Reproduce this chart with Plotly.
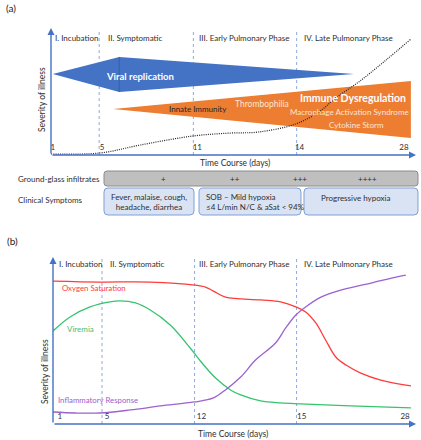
import plotly.graph_objects as go

W, H = 421, 440


def px(x):
    return x / W


def py(y):
    return 1 - y / H


FONT = "Lato"
DARK = "#2E2E2E"
AXIS_BLUE = "#4472C4"
DOT_BLUE = "#8FAADC"

# ---------------- data ----------------
phase_labels = ["I. Incubation", "II. Symptomatic",
                "III. Early Pulmonary Phase", "IV. Late Pulmonary Phase"]

# panel (a): schematic, x = relative time-course position (0-100), y = severity (0-100)
a_tick_text = ["1", "5", "11", "14", "28"]
a_tick_pos = [0.5, 14.0, 40.1, 68.1, 96.7]
a_phase_bounds = [13.2, 39.0, 67.3]
a_phase_label_pos = [0.5, 15.1, 40.1, 68.7]

viral_x = [0.5, 18.7, 83.0, 18.7]
viral_y = [63.8, 77.2, 63.8, 49.6]
immune_x = [17.0, 98.6, 98.6]
immune_y = [36.2, 58.3, 13.4]
severity_x = [0, 13.5, 24.5, 39.0, 49.2, 56.9, 67.0, 73.4, 78.0, 84.3, 91.8, 98.6]
severity_y = [0.8, 1.6, 7.9, 15.0, 17.3, 18.1, 24.4, 33.9, 44.9, 57.5, 74.8, 91.3]

# panel (b)
b_tick_text = ["1", "5", "12", "15", "28"]
b_tick_pos = [1.9, 14.9, 40.9, 68.5, 97.0]
b_phase_bounds = [13.5, 39.0, 67.1]
b_phase_label_pos = [1.1, 15.2, 39.8, 68.5]

oxygen_x = [0, 13.0, 26.8, 39.0, 42.0, 44.2, 47.5, 57.2, 62.7, 66.9, 69.6, 72.4,
            75.1, 77.9, 80.7, 84.8, 90.3, 98.6]
oxygen_y = [85.6, 85.0, 85.0, 83.2, 82.0, 79.6, 76.0, 74.3, 73.1, 70.1, 67.1, 60.5,
            50.3, 40.1, 35.3, 30.5, 26.3, 22.8]
viremia_x = [0, 4.7, 10.2, 15.7, 18.5, 22.7, 26.8, 32.3, 37.8, 40.6, 44.8, 48.9,
             51.7, 57.2, 62.7, 68.2, 82.0, 98.6]
viremia_y = [55.7, 64.1, 70.1, 73.1, 73.7, 72.5, 68.3, 59.3, 45.5, 37.7, 27.5, 20.4,
             17.4, 13.8, 12.6, 12.0, 10.8, 9.6]
inflam_x = [0, 6.1, 13.0, 21.3, 29.6, 39.0, 44.2, 47.5, 51.7, 55.8, 61.3, 64.1,
            66.9, 69.6, 73.8, 79.3, 87.6, 94.5, 97.2]
inflam_y = [7.2, 6.6, 6.6, 8.4, 10.8, 13.2, 15.6, 20.4, 28.1, 38.3, 48.5, 57.5,
            65.3, 70.1, 76.0, 80.2, 84.4, 88.0, 89.2]

ggi_levels = ["+", "++", "+++", "++++"]
symptom_box1 = ["Fever, malaise, cough,", "headache, diarrhea"]
symptom_box2 = ["SOB \u2013 Mild hypoxia", "\u22644 L/min N/C & aSat < 94%"]
symptom_box3 = ["Progressive hypoxia"]

# ---------------- figure ----------------
fig = go.Figure()

# panel (a) shapes
fig.add_trace(go.Scatter(x=immune_x + immune_x[:1], y=immune_y + immune_y[:1],
                         fill="toself", fillcolor="#ED7D31", mode="lines",
                         line=dict(width=0, color="#ED7D31"), hoverinfo="skip",
                         xaxis="x", yaxis="y"))
fig.add_trace(go.Scatter(x=viral_x + viral_x[:1], y=viral_y + viral_y[:1],
                         fill="toself", fillcolor="#4472C4", mode="lines",
                         line=dict(width=0, color="#4472C4"), hoverinfo="skip",
                         xaxis="x", yaxis="y"))
fig.add_trace(go.Scatter(x=[viral_x[1], viral_x[3]], y=[viral_y[1], viral_y[3]],
                         mode="lines", line=dict(width=1, color="#3A62AA"),
                         hoverinfo="skip", xaxis="x", yaxis="y"))
fig.add_trace(go.Scatter(x=severity_x, y=severity_y, mode="lines",
                         line=dict(color="#222222", width=1.2, dash="1px,1.2px", shape="spline"),
                         hoverinfo="skip", xaxis="x", yaxis="y"))

# panel (b) curves
fig.add_trace(go.Scatter(x=oxygen_x, y=oxygen_y, mode="lines",
                         line=dict(color="#FF3B3B", width=1.3, shape="spline"),
                         xaxis="x2", yaxis="y2", hoverinfo="skip"))
fig.add_trace(go.Scatter(x=viremia_x, y=viremia_y, mode="lines",
                         line=dict(color="#35C46E", width=1.3, shape="spline"),
                         xaxis="x2", yaxis="y2", hoverinfo="skip"))
fig.add_trace(go.Scatter(x=inflam_x, y=inflam_y, mode="lines",
                         line=dict(color="#9B62D0", width=1.3, shape="spline"),
                         xaxis="x2", yaxis="y2", hoverinfo="skip"))

shapes = []
annotations = []

# phase boundaries
for b in a_phase_bounds:
    shapes.append(dict(type="line", xref="x", yref="y", x0=b, x1=b, y0=0, y1=98,
                       line=dict(color=DOT_BLUE, width=1, dash="dot"), layer="below"))
for b in b_phase_bounds:
    shapes.append(dict(type="line", xref="x2", yref="y2", x0=b, x1=b, y0=0, y1=99,
                       line=dict(color=DOT_BLUE, width=1, dash="dot"), layer="below"))

# phase labels
for lab, xpos in zip(phase_labels, a_phase_label_pos):
    annotations.append(dict(xref="x", yref="y", x=xpos, y=92.1, text=lab, showarrow=False,
                            xanchor="left", yanchor="middle",
                            font=dict(family=FONT, size=8, color=DARK)))
for lab, xpos in zip(phase_labels, b_phase_label_pos):
    annotations.append(dict(xref="x2", yref="y2", x=xpos, y=95.8, text=lab, showarrow=False,
                            xanchor="left", yanchor="middle",
                            font=dict(family=FONT, size=8, color=DARK)))

# axis arrows
for xr, yr in (("x", "y"), ("x2", "y2")):
    annotations.append(dict(xref=xr, yref=yr, axref=xr, ayref=yr, x=100, y=0, ax=0, ay=0,
                            text="", showarrow=True, arrowhead=2, arrowsize=1,
                            arrowwidth=1.4, arrowcolor=AXIS_BLUE))
    annotations.append(dict(xref=xr, yref=yr, axref=xr, ayref=yr, x=0, y=100, ax=0, ay=0,
                            text="", showarrow=True, arrowhead=2, arrowsize=1,
                            arrowwidth=1.4, arrowcolor=AXIS_BLUE))

# text inside shapes (panel a)
annotations += [
    dict(xref="x", yref="y", x=24.5, y=62.2, text="<b>Viral replication</b>", showarrow=False,
         font=dict(family=FONT, size=9.5, color="white")),
    dict(xref="x", yref="y", x=40.4, y=36.2, text="Innate Immunity", showarrow=False,
         font=dict(family=FONT, size=8, color="#262626")),
    dict(xref="x", yref="y", x=57.7, y=40.2, text="Thrombophilia", showarrow=False,
         font=dict(family=FONT, size=8.5, color="#FBE5D6")),
    dict(xref="x", yref="y", x=82.7, y=44.9, text="<b>Immune Dysregulation</b>", showarrow=False,
         font=dict(family=FONT, size=10.5, color="white")),
    dict(xref="x", yref="y", x=81.9, y=33.9, text="Macrophage Activation Syndrome",
         showarrow=False, font=dict(family=FONT, size=8, color="#FBE5D6")),
    dict(xref="x", yref="y", x=83.8, y=23.6, text="Cytokine Storm", showarrow=False,
         font=dict(family=FONT, size=8, color="#FBE5D6")),
]

# panel (b) curve labels
annotations += [
    dict(xref="x2", yref="y2", x=11.3, y=81.4, text="Oxygen Saturation", showarrow=False,
         font=dict(family=FONT, size=7.8, color="#FF3B3B")),
    dict(xref="x2", yref="y2", x=7.7, y=56.9, text="Viremia", showarrow=False,
         font=dict(family=FONT, size=8, color="#4CBB6E")),
    dict(xref="x2", yref="y2", x=12.4, y=14.4, text="Inflammatory Response", showarrow=False,
         font=dict(family=FONT, size=7.8, color="#9B62D0")),
]


def paper_text(x, y, text, size=8, color=DARK, xanchor="center", angle=0, align="center"):
    return dict(xref="paper", yref="paper", x=px(x), y=py(y), text=text, showarrow=False,
                xanchor=xanchor, yanchor="middle", textangle=angle, align=align,
                font=dict(family=FONT, size=size, color=color))


# axis titles and panel letters
annotations += [
    paper_text(235, 163, "Time Course (days)", 8.5),
    paper_text(233, 434, "Time Course (days)", 8.5),
    paper_text(42, 100, "Severity of illness", 8.5, angle=-90),
    paper_text(45, 372, "Severity of illness", 8.5, angle=-90),
    paper_text(4, 8, "(a)", 10, "#222222", xanchor="left"),
    paper_text(5, 241, "(b)", 10, "#222222", xanchor="left"),
]


def rrect(x0, y0, x1, y1, r):
    pts = [
        ("M", (x0 + r, y0)), ("L", (x1 - r, y0)), ("Q", (x1, y0), (x1, y0 + r)),
        ("L", (x1, y1 - r)), ("Q", (x1, y1), (x1 - r, y1)), ("L", (x0 + r, y1)),
        ("Q", (x0, y1), (x0, y1 - r)), ("L", (x0, y0 + r)), ("Q", (x0, y0), (x0 + r, y0)),
    ]
    out = []
    for item in pts:
        cmd = item[0]
        coords = " ".join(f"{px(p[0]):.5f},{py(p[1]):.5f}" for p in item[1:])
        out.append(f"{cmd} {coords}")
    return " ".join(out) + " Z"


# table rows
shapes.append(dict(type="path", xref="paper", yref="paper", path=rrect(104, 171, 418, 186, 3),
                   fillcolor="#BFBFBF", line=dict(color="#8C8C8C", width=1)))
for lvl, xc in zip(ggi_levels, [163, 235, 300, 367]):
    annotations.append(paper_text(xc, 178.5, lvl))
for (x0, x1) in [(104, 194), (199, 301), (304, 418)]:
    shapes.append(dict(type="path", xref="paper", yref="paper", path=rrect(x0, 188, x1, 215, 4),
                       fillcolor="#DAE3F3", line=dict(color="#7F9FD8", width=1)))

annotations += [
    paper_text(16, 178.5, "Ground-glass infiltrates", xanchor="left"),
    paper_text(16, 200, "Clinical Symptoms", xanchor="left"),
    paper_text(149, 202, "<br>".join(symptom_box1)),
    paper_text(204, 202, "<br>".join(symptom_box2), xanchor="left", align="left"),
    paper_text(355, 198, "<br>".join(symptom_box3)),
]

axis_common = dict(range=[0, 100], showgrid=False, zeroline=False, showline=False,
                   fixedrange=True)
fig.update_layout(
    width=W, height=H, margin=dict(l=0, r=0, t=0, b=0),
    paper_bgcolor="white", plot_bgcolor="rgba(0,0,0,0)", showlegend=False,
    xaxis=dict(domain=[px(51), px(416)], anchor="y", tickvals=a_tick_pos, ticktext=a_tick_text,
               ticks="", ticklabelposition="inside", ticklabeloverflow="allow",
               tickfont=dict(family=FONT, size=8, color=DARK), **axis_common),
    yaxis=dict(domain=[py(155), py(28)], anchor="x", showticklabels=False, **axis_common),
    xaxis2=dict(domain=[px(53), px(416)], anchor="y2", tickvals=b_tick_pos, ticktext=b_tick_text,
                ticks="", ticklabelposition="inside", ticklabeloverflow="allow",
                tickfont=dict(family=FONT, size=8, color=DARK), **axis_common),
    yaxis2=dict(domain=[py(424), py(257)], anchor="x2", showticklabels=False, **axis_common),
    shapes=shapes, annotations=annotations,
)

fig.write_html("out.html", config={"displayModeBar": False},
               post_script="document.body.style.margin='0';document.body.style.overflow='hidden';")
